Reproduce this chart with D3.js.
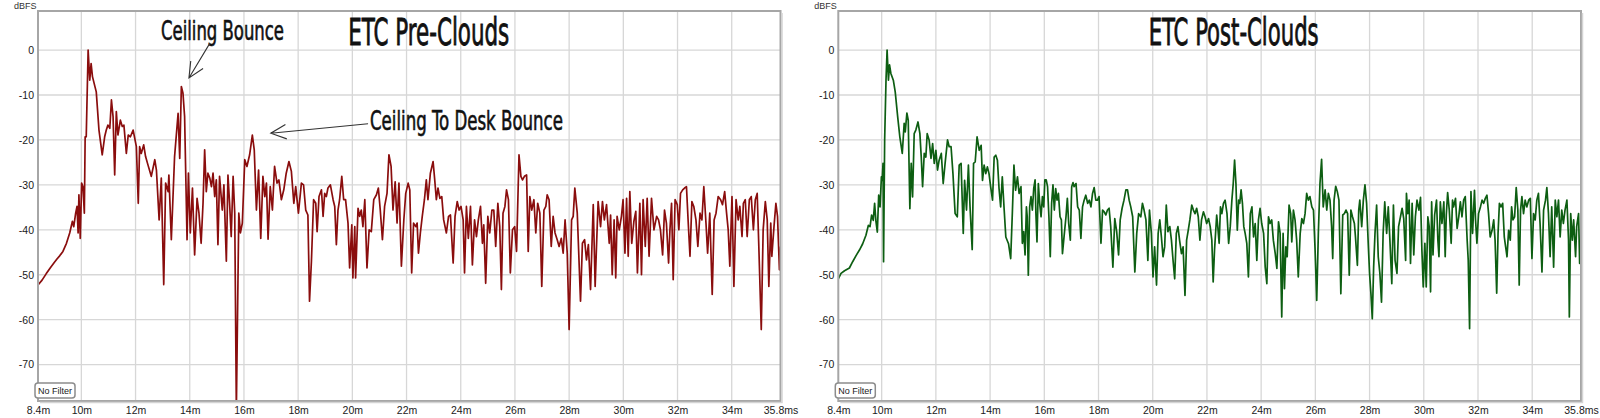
<!DOCTYPE html>
<html>
<head>
<meta charset="utf-8">
<script src="https://cdn.jsdelivr.net/npm/d3@7"></script>
<style>
  body { margin: 0; background: #fff; }
  svg { display: block; }
</style>
</head>
<body>
<svg id="chart" width="1600" height="418"></svg>
<script>
// [time ms, level dBFS]
const preClouds = [
  [8.4,-52.3],[8.55,-51.2],[8.7,-49.8],[8.85,-48.5],[9.0,-47.3],[9.1,-46.5],
  [9.20,-45.8],[9.32,-44.8],[9.45,-43.0],[9.57,-40.7],[9.67,-38.1],[9.72,-39.3],[9.79,-36.3],[9.84,-34.8],
  [9.88,-40.7],[9.91,-32.2],[9.96,-41.9],[10.01,-29.6],[10.06,-30.4],[10.11,-36.3],[10.14,-19.3],[10.18,-19.3],
  [10.25,0],[10.31,-6.7],[10.36,-3.0],[10.41,-5.9],[10.55,-9.3],[10.65,-17.8],[10.77,-23.3],[10.86,-19.3],
  [10.92,-17.8],[10.98,-16.7],[11.05,-17.4],[11.11,-11.1],[11.17,-14.8],[11.23,-27.8],[11.29,-13.7],[11.35,-18.9],
  [11.44,-15.6],[11.51,-17.0],[11.57,-16.7],[11.66,-23.0],[11.73,-18.9],[11.81,-19.3],[11.91,-17.8],[12.03,-21.5],
  [12.10,-34.1],[12.15,-21.5],[12.21,-23.0],[12.30,-21.1],[12.37,-23.7],[12.46,-25.6],[12.58,-28.1],[12.71,-24.4],
  [12.77,-26.7],[12.87,-37.8],[12.95,-28.5],[13.04,-52.2],[13.11,-29.6],[13.20,-31.5],[13.23,-27.8],[13.32,-42.2],
  [13.44,-23.7],[13.57,-14.1],[13.63,-24.1],[13.69,-8.1],[13.75,-9.6],[13.81,-14.8],[13.90,-42.2],[13.95,-27.4],
  [14.02,-40.7],[14.10,-30.7],[14.18,-45.6],[14.27,-33.0],[14.34,-36.3],[14.42,-43.0],[14.49,-34.1],[14.55,-22.2],
  [14.61,-31.5],[14.67,-27.4],[14.74,-28.5],[14.80,-30.4],[14.86,-27.4],[14.92,-32.6],[14.98,-28.9],[15.04,-43.3],
  [15.10,-28.1],[15.20,-35.6],[15.26,-30.0],[15.35,-47.0],[15.41,-27.8],[15.47,-34.1],[15.53,-41.5],[15.60,-28.1],
  [15.66,-36.3],[15.72,-80],[15.81,-36.3],[15.87,-40.7],[15.94,-38.5],[16.03,-24.4],[16.11,-25.9],[16.21,-23.3],
  [16.31,-18.9],[16.38,-22.2],[16.46,-35.6],[16.54,-26.7],[16.62,-41.9],[16.70,-28.1],[16.77,-32.6],[16.83,-29.6],
  [16.89,-42.1],[16.97,-30.4],[17.05,-35.6],[17.13,-25.9],[17.22,-29.6],[17.29,-28.9],[17.38,-33.3],[17.47,-31.1],
  [17.56,-27.4],[17.66,-24.8],[17.75,-27.0],[17.84,-34.1],[17.91,-30.4],[18.01,-36.3],
  [18.06,-33.3],[18.12,-29.6],[18.20,-30.0],[18.28,-35.6],[18.36,-36.7],[18.42,-55.9],[18.49,-47.0],[18.57,-33.3],
  [18.65,-34.1],[18.70,-40.4],[18.77,-32.6],[18.86,-31.1],[18.92,-37.0],[18.98,-31.9],[19.04,-32.6],[19.10,-30.7],
  [19.19,-30.0],[19.29,-33.3],[19.35,-34.8],[19.41,-43.3],[19.47,-35.6],[19.53,-33.3],[19.61,-28.1],[19.68,-33.3],
  [19.75,-33.3],[19.84,-38.5],[19.90,-48.5],[19.98,-38.9],[20.02,-50.7],[20.09,-39.3],[20.12,-50.7],[20.21,-35.2],
  [20.27,-37.0],[20.33,-35.6],[20.39,-39.3],[20.46,-33.3],[20.54,-48.5],[20.62,-40.0],[20.70,-40.4],[20.79,-33.3],
  [20.89,-32.2],[20.96,-30.7],[21.03,-35.6],[21.11,-42.2],[21.19,-34.8],[21.28,-31.9],[21.35,-23.3],[21.43,-25.9],
  [21.50,-35.6],[21.58,-29.3],[21.65,-38.5],[21.72,-29.6],[21.81,-48.1],[21.90,-37.8],[21.97,-31.9],[22.06,-29.6],
  [22.12,-31.1],[22.19,-49.6],[22.26,-38.5],[22.34,-39.3],[22.39,-38.5],[22.44,-45.2],[22.51,-40.7],[22.58,-37.0],
  [22.66,-33.3],[22.73,-28.9],[22.79,-33.3],[22.88,-27.4],[22.98,-24.8],[23.04,-28.9],[23.10,-33.3],[23.16,-30.7],
  [23.23,-33.0],[23.30,-32.6],[23.37,-37.8],[23.47,-40.7],[23.55,-37.0],[23.62,-36.7],[23.72,-47.4],[23.79,-37.0],
  [23.87,-33.7],[23.94,-35.6],[24.01,-34.8],[24.09,-37.8],[24.14,-49.6],[24.21,-34.8],[24.28,-41.9],[24.36,-34.8],
  [24.43,-47.8],[24.51,-37.8],[24.58,-41.5],[24.65,-37.8],[24.73,-34.8],[24.80,-43.0],[24.85,-38.9],[24.92,-51.9],
  [25.00,-37.0],[25.07,-40.7],[25.15,-35.6],[25.22,-35.6],[25.29,-43.7],[25.37,-34.1],[25.44,-39.3],[25.50,-53.3],
  [25.56,-36.3],[25.63,-34.8],[25.69,-31.1],[25.76,-33.3],[25.83,-49.6],[25.91,-40.0],[25.99,-39.3],[26.06,-44.8],
  [26.15,-23.3],[26.22,-28.1],[26.28,-28.9],[26.35,-28.1],[26.43,-27.8],[26.49,-44.8],[26.55,-32.6],[26.62,-35.6],
  [26.70,-33.3],[26.77,-40.7],[26.84,-34.1],[26.92,-36.3],[26.99,-52.6],[27.07,-35.6],[27.14,-34.8],[27.19,-32.2],
  [27.26,-33.3],[27.34,-43.7],[27.41,-37.0],[27.48,-40.7],[27.56,-42.2],[27.63,-43.7],[27.71,-41.9],[27.78,-45.2],
  [27.85,-37.8],[27.93,-45.2],
  [28.00,-62.2],[28.09,-37.8],[28.15,-37.0],[28.21,-30.7],[28.30,-36.3],[28.42,-55.9],[28.49,-43.0],[28.57,-42.2],
  [28.64,-46.7],[28.71,-43.3],[28.79,-53.3],[28.89,-34.4],[28.96,-52.6],[29.01,-43.7],[29.07,-33.7],[29.16,-39.3],
  [29.23,-33.7],[29.30,-37.8],[29.38,-34.4],[29.48,-43.0],[29.53,-36.7],[29.59,-50.0],[29.66,-37.8],[29.72,-50.7],
  [29.77,-37.0],[29.85,-40.0],[29.93,-37.0],[29.99,-33.3],[30.06,-45.2],[30.12,-33.0],[30.18,-45.9],[30.24,-31.5],
  [30.31,-43.0],[30.39,-38.1],[30.46,-35.9],[30.52,-49.6],[30.61,-34.1],[30.67,-50.0],[30.73,-33.3],[30.81,-43.7],
  [30.88,-33.0],[30.95,-45.9],[31.04,-33.0],[31.13,-40.0],[31.23,-37.0],[31.30,-37.8],[31.37,-40.0],[31.45,-45.6],
  [31.52,-35.6],[31.59,-38.5],[31.67,-47.4],[31.72,-40.0],[31.78,-34.1],[31.84,-51.1],[31.91,-33.3],[31.99,-34.4],
  [32.05,-40.0],[32.11,-31.9],[32.19,-31.1],[32.26,-30.7],[32.33,-30.4],[32.39,-37.8],[32.46,-45.9],[32.53,-33.7],
  [32.60,-34.8],[32.68,-37.8],[32.75,-43.7],[32.83,-36.3],[32.90,-37.8],[32.97,-30.4],[33.05,-38.5],[33.11,-45.2],
  [33.19,-36.3],[33.28,-54.4],[33.35,-37.8],[33.42,-36.3],[33.50,-32.6],[33.59,-33.3],[33.66,-34.4],[33.74,-31.5],
  [33.81,-36.3],[33.87,-40.0],[33.93,-48.1],[34.01,-32.6],[34.08,-52.6],[34.16,-33.3],[34.24,-37.8],[34.30,-34.8],
  [34.38,-41.5],[34.43,-34.1],[34.50,-33.3],[34.57,-41.5],[34.65,-33.3],[34.72,-32.6],[34.80,-40.0],[34.87,-33.3],
  [34.94,-31.9],[35.00,-43.7],[35.09,-62.2],[35.16,-40.0],[35.24,-33.7],[35.31,-37.8],[35.37,-52.6],[35.44,-38.5],
  [35.48,-45.9],[35.56,-39.3],[35.63,-34.1],[35.69,-37.0],[35.76,-48.9],[35.80,-43.7]
];

const postClouds = [
  [8.40,-50.9],[8.50,-49.7],[8.63,-49.1],[8.81,-48.5],[8.93,-47.1],[9.06,-45.7],[9.18,-44.5],[9.30,-43.1],
  [9.42,-41.2],[9.51,-39.0],[9.57,-39.3],[9.63,-36.7],[9.69,-37.9],[9.74,-34.1],[9.79,-38.2],[9.84,-40.5],
  [9.89,-32.3],[9.94,-34.9],[9.99,-28.2],[10.02,-29.0],[10.05,-25.2],[10.07,-47.1],[10.11,-20.0],[10.16,-6.7],
  [10.20,0],[10.25,-6.7],[10.29,-3.3],[10.34,-5.2],[10.43,-6.7],[10.50,-9.3],[10.59,-14.8],[10.67,-19.3],
  [10.76,-23.0],[10.83,-16.3],[10.87,-18.2],[10.93,-14.0],[10.98,-15.6],[11.04,-35.3],[11.09,-25.2],[11.14,-32.7],
  [11.20,-18.6],[11.26,-17.8],[11.34,-16.0],[11.41,-18.6],[11.46,-23.8],[11.51,-30.4],[11.57,-23.0],[11.63,-23.8],
  [11.68,-18.6],[11.75,-20.0],[11.82,-24.1],[11.88,-20.8],[11.94,-25.2],[12.00,-22.3],[12.06,-26.7],[12.12,-24.5],
  [12.20,-23.0],[12.27,-29.7],[12.34,-25.2],[12.43,-20.0],[12.49,-21.5],[12.56,-21.5],[12.63,-27.5],[12.71,-36.4],
  [12.79,-37.1],[12.86,-25.6],[12.93,-25.2],[13.01,-40.8],[13.06,-29.0],[13.13,-35.6],[13.20,-25.6],[13.26,-34.9],
  [13.34,-44.4],[13.39,-25.2],[13.45,-24.9],[13.52,-19.3],[13.60,-22.3],[13.67,-21.2],[13.72,-29.0],[13.78,-25.6],
  [13.84,-27.5],[13.90,-26.0],[13.96,-27.5],[14.02,-30.4],[14.09,-33.4],[14.15,-23.8],[14.21,-23.4],[14.27,-24.5],
  [14.33,-30.8],[14.39,-34.9],[14.45,-28.2],[14.52,-35.6],[14.58,-41.6],[14.68,-43.1],[14.76,-46.4],[14.82,-36.4],
  [14.88,-25.6],[14.94,-31.2],[15.01,-28.2],[15.07,-31.9],
  [15.14,-30.4],[15.19,-43.0],[15.24,-40.4],[15.29,-45.6],[15.34,-34.9],[15.37,-37.1],[15.41,-50.1],[15.46,-34.9],
  [15.51,-32.6],[15.56,-35.6],[15.61,-30.8],[15.66,-28.9],[15.69,-36.4],[15.73,-42.7],[15.78,-29.7],[15.83,-34.1],
  [15.88,-37.1],[15.93,-32.6],[15.98,-34.9],[16.02,-28.9],[16.07,-28.9],[16.12,-30.4],[16.17,-37.1],[16.22,-46.0],
  [16.27,-34.1],[16.32,-30.0],[16.37,-35.6],[16.42,-30.8],[16.47,-33.4],[16.52,-31.9],[16.58,-37.1],[16.63,-37.8],
  [16.67,-45.3],[16.74,-40.8],[16.80,-37.1],[16.85,-33.0],[16.90,-38.6],[16.96,-42.3],[17.01,-30.4],[17.06,-29.5],
  [17.10,-30.4],[17.17,-29.7],[17.23,-34.9],[17.29,-35.6],[17.35,-41.9],[17.41,-34.9],[17.47,-33.4],[17.53,-32.3],
  [17.60,-34.1],[17.66,-33.4],[17.72,-34.9],[17.78,-31.9],[17.84,-30.6],[17.90,-33.4],[17.96,-33.4],[18.02,-32.6],
  [18.09,-43.0],[18.15,-35.6],[18.21,-36.0],[18.27,-36.7],[18.33,-35.6],[18.39,-35.2],[18.45,-39.3],[18.53,-48.3],
  [18.60,-37.5],[18.67,-40.4],[18.74,-45.6],[18.80,-37.8],[18.87,-35.2],[18.94,-33.4],[19.01,-31.1],[19.07,-31.1],
  [19.13,-33.4],[19.19,-34.9],[19.26,-37.1],[19.34,-49.4],[19.41,-40.8],[19.48,-36.4],[19.56,-37.1],[19.62,-34.1],
  [19.68,-35.6],[19.75,-37.8],[19.82,-46.8],[19.88,-35.6],[19.95,-40.8],[20.01,-50.5],[20.07,-43.8],[20.14,-52.3],
  [20.20,-40.8],[20.26,-37.8],[20.32,-41.6],[20.38,-46.0],[20.44,-43.8],[20.50,-34.5],[20.56,-40.4],[20.63,-39.3],
  [20.69,-42.3],[20.75,-46.8],[20.81,-50.9],[20.87,-40.8],[20.93,-39.3],[20.99,-42.3],[21.06,-45.3],[21.12,-43.8],
  [21.19,-54.6],[21.25,-42.3],[21.31,-40.1],[21.37,-37.8],[21.44,-34.5],[21.50,-35.6],[21.56,-36.4],[21.62,-35.2],
  [21.68,-37.1],[21.74,-42.3],[21.80,-37.8],[21.87,-36.0],[21.93,-37.1],[21.99,-38.6],
  [22.06,-37.5],[22.12,-39.3],[22.18,-42.3],[22.23,-51.6],[22.28,-44.5],[22.36,-36.7],[22.40,-39.3],[22.45,-43.0],
  [22.50,-34.9],[22.55,-36.4],[22.61,-34.1],[22.67,-33.4],[22.74,-36.4],[22.80,-43.0],[22.86,-39.3],[22.92,-33.4],
  [22.97,-29.7],[23.02,-24.5],[23.07,-29.7],[23.12,-40.1],[23.17,-33.4],[23.21,-34.1],[23.26,-31.1],[23.31,-34.1],
  [23.36,-39.3],[23.41,-40.8],[23.47,-43.0],[23.53,-50.5],[23.60,-36.4],[23.66,-34.9],[23.72,-41.6],[23.78,-38.6],
  [23.84,-46.8],[23.90,-37.8],[23.96,-35.2],[24.02,-38.6],[24.09,-40.8],[24.15,-48.3],[24.21,-52.0],[24.27,-37.1],
  [24.33,-38.6],[24.39,-37.8],[24.45,-42.3],[24.52,-45.3],[24.58,-48.6],[24.64,-38.2],[24.70,-40.8],[24.76,-59.4],
  [24.81,-40.8],[24.86,-53.1],[24.91,-43.8],[24.96,-46.0],[25.03,-34.5],[25.09,-36.4],[25.13,-42.7],[25.19,-35.6],
  [25.25,-37.8],[25.31,-42.3],[25.37,-50.5],[25.44,-40.8],[25.50,-37.5],[25.56,-38.6],[25.62,-36.4],[25.68,-31.9],
  [25.74,-33.4],[25.80,-32.6],[25.87,-34.9],[25.93,-35.6],[25.99,-44.5],[26.05,-55.7],[26.11,-40.8],[26.17,-29.7],
  [26.23,-24.3],[26.29,-34.9],[26.36,-31.1],[26.42,-35.6],[26.48,-31.9],[26.54,-33.4],[26.60,-39.3],[26.64,-46.4],
  [26.69,-33.4],[26.75,-30.3],[26.81,-31.5],[26.87,-33.4],[26.94,-54.2],[27.01,-36.7],[27.07,-36.4],[27.13,-35.6],
  [27.19,-36.4],[27.25,-50.1],[27.31,-35.6],[27.37,-37.1],[27.44,-38.6],[27.48,-41.6],[27.55,-47.9],[27.60,-35.6],
  [27.64,-33.4],[27.71,-39.3],[27.77,-33.4],[27.83,-30.0],[27.89,-34.1],[27.95,-43.0],[28.00,-49.7],[28.05,-54.2],
  [28.10,-59.8],[28.15,-48.3],[28.20,-40.8],[28.26,-34.5],[28.32,-46.0],[28.38,-49.7],[28.44,-56.1],[28.50,-40.8],
  [28.56,-33.8],[28.63,-40.8],[28.69,-34.9],[28.75,-42.3],
  [28.82,-52.0],[28.88,-34.5],[28.94,-46.8],[29.01,-49.7],[29.07,-39.3],[29.14,-37.1],[29.20,-35.2],[29.26,-37.5],
  [29.33,-46.8],[29.36,-31.9],[29.41,-36.4],[29.46,-33.4],[29.51,-47.5],[29.57,-34.1],[29.63,-45.6],[29.69,-37.1],
  [29.75,-33.4],[29.82,-35.6],[29.88,-32.8],[29.93,-44.5],[29.98,-52.7],[30.04,-43.0],[30.09,-52.7],[30.15,-37.1],
  [30.20,-39.3],[30.25,-53.8],[30.29,-33.8],[30.34,-45.6],[30.40,-36.7],[30.47,-33.4],[30.52,-42.3],[30.56,-46.0],
  [30.61,-33.8],[30.67,-38.6],[30.74,-33.8],[30.79,-46.0],[30.83,-36.7],[30.88,-31.7],[30.94,-35.6],[31.01,-43.0],
  [31.06,-33.4],[31.10,-34.9],[31.17,-33.0],[31.23,-39.7],[31.29,-37.1],[31.35,-33.8],[31.41,-37.1],[31.47,-33.4],
  [31.53,-32.6],[31.60,-42.3],[31.64,-46.8],[31.69,-62.0],[31.74,-31.5],[31.80,-40.8],[31.87,-31.2],[31.91,-37.8],
  [31.96,-43.0],[32.02,-36.4],[32.09,-34.9],[32.15,-33.4],[32.21,-34.1],[32.27,-33.0],[32.33,-32.3],[32.39,-36.4],
  [32.45,-41.6],[32.52,-40.1],[32.58,-37.8],[32.63,-42.3],[32.69,-54.1],[32.74,-40.8],[32.79,-34.1],[32.85,-34.9],
  [32.91,-34.1],[32.97,-41.6],[33.02,-43.8],[33.07,-46.0],[33.13,-40.1],[33.19,-42.3],[33.24,-34.9],[33.29,-37.8],
  [33.35,-37.1],[33.41,-30.6],[33.47,-35.6],[33.52,-52.3],[33.57,-35.6],[33.62,-32.6],[33.68,-36.4],[33.74,-33.4],
  [33.80,-34.9],[33.87,-33.4],[33.93,-33.0],[33.99,-46.4],[34.05,-36.4],[34.11,-37.8],[34.17,-33.4],[34.23,-31.9],
  [34.29,-38.6],[34.36,-49.4],[34.42,-35.6],[34.49,-33.4],[34.54,-30.6],[34.60,-36.4],[34.66,-46.0],[34.72,-34.9],
  [34.79,-48.3],[34.85,-33.4],[34.91,-37.1],[34.97,-33.4],[35.03,-41.6],[35.09,-35.6],[35.15,-38.6],[35.21,-35.6],
  [35.28,-33.4],[35.34,-42.3],[35.37,-59.4],[35.42,-36.4],[35.48,-42.3],[35.53,-37.8],[35.60,-46.0],[35.64,-39.3],
  [35.71,-36.4],[35.75,-47.5],[35.80,-44.0]
];

const xTickValues = [8.4, 10, 12, 14, 16, 18, 20, 22, 24, 26, 28, 30, 32, 34, 35.8];
const xTickLabels = ["8.4m", "10m", "12m", "14m", "16m", "18m", "20m", "22m", "24m", "26m", "28m", "30m", "32m", "34m", "35.8ms"];
const yTickValues = [0, -10, -20, -30, -40, -50, -60, -70];
const titles = ["ETC Pre-Clouds", "ETC Post-Clouds"];

// annotations on the first plot, positions in ms / dBFS
const callouts = [
  { label: "Ceiling Bounce", t: 12.94, db: 2.2, tail: [14.75, 1.6], tip: [13.97, -6.2], width: 123 },
  { label: "Ceiling To Desk Bounce", t: 20.65, db: -17.8, tail: [20.58, -16.4], tip: [16.99, -18.5], width: 193 }
];

const svg = d3.select("#chart");
const plotTop = 11, plotBottom = 401;
const narrowFont = "'Liberation Sans Narrow', 'DejaVu Sans Condensed', 'Arial Narrow', sans-serif";
const uiFont = "'Liberation Sans', Arial, sans-serif";

const panels = [
  { data: preClouds, title: titles[0], color: "#8a0d0d", left: 38, right: 780.5, titleWidth: 161, notes: callouts },
  { data: postClouds, title: titles[1], color: "#0d5e12", left: 838.3, right: 1581, titleWidth: 170, notes: [] }
];

panels.forEach((p, i) => {
  const x = d3.scaleLinear().domain([8.4, 35.8]).range([p.left, p.right]);
  const y = d3.scaleLinear().domain([-78.1, 8.7]).range([plotBottom, plotTop]);
  const g = svg.append("g");

  // grid
  g.append("g")
    .selectAll("line")
    .data(xTickValues.slice(1, -1))
    .join("line")
    .attr("x1", d => x(d)).attr("x2", d => x(d))
    .attr("y1", plotTop).attr("y2", plotBottom)
    .attr("stroke", "#d7d7d7").attr("stroke-width", 1.3);

  g.append("g")
    .selectAll("line")
    .data(yTickValues)
    .join("line")
    .attr("x1", p.left).attr("x2", p.right)
    .attr("y1", d => y(d)).attr("y2", d => y(d))
    .attr("stroke", "#d7d7d7").attr("stroke-width", 1.3);

  // axes as plain labels
  const xAxis = d3.axisBottom(x)
    .tickValues(xTickValues)
    .tickFormat((d, k) => xTickLabels[k])
    .tickSize(0).tickPadding(6);
  const xa = g.append("g").attr("transform", `translate(0,${plotBottom})`).call(xAxis);
  xa.select(".domain").remove();
  xa.selectAll("text")
    .attr("font-family", uiFont)
    .attr("font-size", 10.5).attr("fill", "#1a1a1a");

  const yAxis = d3.axisLeft(y).tickValues(yTickValues).tickSize(0).tickPadding(4);
  const ya = g.append("g").attr("transform", `translate(${p.left},0)`).call(yAxis);
  ya.select(".domain").remove();
  ya.selectAll("text")
    .text(d => String(d))
    .attr("font-family", uiFont)
    .attr("font-size", 10.5).attr("fill", "#1a1a1a");

  g.append("text")
    .attr("x", p.left - 24).attr("y", 9)
    .attr("font-family", uiFont)
    .attr("font-size", 9).attr("fill", "#333")
    .text("dBFS");

  // trace
  const clipId = "clip" + i;
  svg.append("clipPath").attr("id", clipId)
    .append("rect").attr("x", p.left).attr("y", plotTop)
    .attr("width", p.right - p.left).attr("height", plotBottom - plotTop);

  const line = d3.line().x(d => x(d[0])).y(d => y(d[1]));
  g.append("path")
    .datum(p.data)
    .attr("clip-path", `url(#${clipId})`)
    .attr("d", line)
    .attr("fill", "none")
    .attr("stroke", p.color)
    .attr("stroke-width", 1.7)
    .attr("stroke-linejoin", "round");

  // frame
  g.append("rect")
    .attr("x", p.left).attr("y", plotTop)
    .attr("width", p.right - p.left).attr("height", plotBottom - plotTop)
    .attr("fill", "none").attr("stroke", "#a6a6a6").attr("stroke-width", 2);
  g.append("path")
    .attr("d", `M${p.right + 1.5},${plotTop + 2}V${plotBottom + 1.5}H${p.left + 2}`)
    .attr("fill", "none").attr("stroke", "#d4d4d4").attr("stroke-width", 1.5);

  // "No Filter" badge
  g.append("rect")
    .attr("x", p.left - 3).attr("y", 383).attr("width", 40).attr("height", 15).attr("rx", 3)
    .attr("fill", "#fff").attr("stroke", "#8c8c8c").attr("stroke-width", 1.5);
  g.append("text")
    .attr("x", p.left + 17).attr("y", 394)
    .attr("text-anchor", "middle")
    .attr("font-family", uiFont)
    .attr("font-size", 9).attr("fill", "#222")
    .text("No Filter");

  // title
  g.append("text")
    .attr("x", x(19.85)).attr("y", y(1.1))
    .attr("font-family", narrowFont)
    .attr("font-size", 37).attr("fill", "#111")
    .attr("stroke", "#111").attr("stroke-width", 0.8)
    .attr("textLength", p.titleWidth).attr("lengthAdjust", "spacingAndGlyphs")
    .text(p.title);

  // callouts
  p.notes.forEach(n => {
    g.append("text")
      .attr("x", x(n.t)).attr("y", y(n.db))
      .attr("font-family", narrowFont)
      .attr("font-size", 26).attr("fill", "#111")
      .attr("stroke", "#111").attr("stroke-width", 0.6)
      .attr("textLength", n.width).attr("lengthAdjust", "spacingAndGlyphs")
      .text(n.label);

    const tx = x(n.tip[0]), ty = y(n.tip[1]);
    const sx = x(n.tail[0]), sy = y(n.tail[1]);
    const ang = Math.atan2(sy - ty, sx - tx);
    const len = 17, spread = 25 * Math.PI / 180;
    const head = [ang - spread, ang + spread].map(a => [tx + len * Math.cos(a), ty + len * Math.sin(a)]);
    g.append("path")
      .attr("d", `M${sx},${sy}L${tx},${ty}M${head[0][0]},${head[0][1]}L${tx},${ty}L${head[1][0]},${head[1][1]}`)
      .attr("fill", "none").attr("stroke", "#333").attr("stroke-width", 1.1);
  });
});
</script>
</body>
</html>
